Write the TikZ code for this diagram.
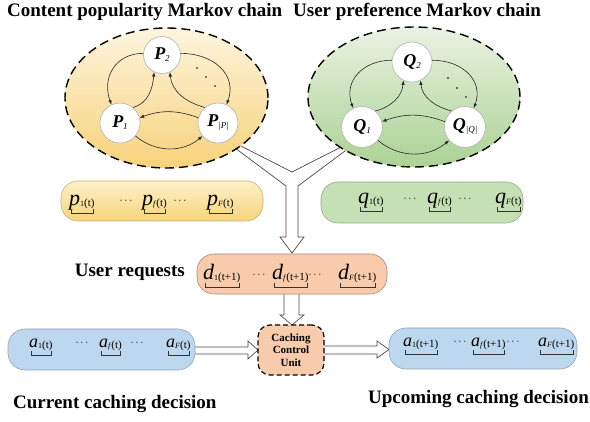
\documentclass[tikz,border=0pt]{standalone}
\usepackage{fontspec}
\setmainfont{Liberation Serif}
\usetikzlibrary{arrows.meta,shapes.geometric}
\definecolor{ylwtop}{HTML}{FEF5DE}
\definecolor{ylwbot}{HTML}{F6D27A}
\definecolor{grntop}{HTML}{E9F2E2}
\definecolor{grnbot}{HTML}{ABD293}
\definecolor{pboxtop}{HTML}{FDF0C8}
\definecolor{pboxbot}{HTML}{F7D47A}
\definecolor{pboxline}{HTML}{C9B07A}
\definecolor{qboxfill}{HTML}{C5E0B4}
\definecolor{qboxline}{HTML}{8FAF80}
\definecolor{dboxfill}{HTML}{F8CBAD}
\definecolor{dboxline}{HTML}{A88A78}
\definecolor{aboxfill}{HTML}{BDD7EE}
\definecolor{aboxline}{HTML}{8FA6BD}
\definecolor{bigline}{HTML}{5B4444}
\newcommand\statelab[2]{{\fontsize{18}{18}\selectfont\bfseries\itshape #1}{\fontsize{9}{9}\selectfont\itshape\raisebox{-2pt}{#2}}}
\newcommand\itmtxt[4]{{\fontsize{#4}{#4}\selectfont\itshape #1}\raisebox{-1pt}{{\fontsize{8}{8}\selectfont #2}{\fontsize{11}{11}\selectfont #3}}}
\newcommand\brkt[1]{\draw[brk] ([shift={(2pt,-3.5pt)}]#1.base west) -- ([shift={(2pt,-7pt)}]#1.base west) -- ([shift={(-1.5pt,-7pt)}]#1.base east) -- ([shift={(-1.5pt,-3.5pt)}]#1.base east);}
\begin{document}
\begin{tikzpicture}[x=1pt,y=-1pt,
  title/.style={font=\fontsize{19}{19}\selectfont\bfseries, inner sep=0},
  state/.style={circle, fill=white, draw=black!30, line width=0.6pt, minimum size=40pt, inner sep=0},
  arr/.style={-{Latex[length=4.5pt,width=3.5pt]}, line width=0.6pt, black!85},
  mc/.style={ellipse, draw=black, line width=1.4pt, dash pattern=on 9pt off 5pt, inner sep=0},
  box/.style={rounded corners=17pt, line width=0.6pt, inner sep=0},
  bigarrow/.style={fill=white, draw=bigline, line width=0.7pt, line join=miter},
  itm/.style={inner sep=0, anchor=base west},
  dts/.style={inner sep=0, anchor=base, font=\fontsize{11}{11}\selectfont\bfseries},
  brk/.style={line width=0.6pt, draw=black!80},
  ccu/.style={rounded corners=12pt, draw=black, line width=1.2pt, dash pattern=on 5pt off 3pt, fill=dboxfill, inner sep=0, align=center, font=\fontsize{11}{12.5}\selectfont\bfseries}
]
\useasboundingbox (0,0) rectangle (590,422);
\fill[white] (0,0) rectangle (590,422);

% titles
\node[title, anchor=base west] (t1) at (7,17) {Content popularity Markov chain};
\node[title, anchor=base west] (t2) at (293,17) {User preference Markov chain};

% Y-shaped big arrow
\draw[bigarrow] (231,141) -- (292,172) -- (353,141) -- (353,145) -- (298,186) -- (298,237) -- (304,237) -- (292,253) -- (280,237) -- (286,237) -- (286,186) -- (231,145) -- cycle;

% ellipses
\node[mc, minimum width=203pt, minimum height=140pt, top color=ylwtop, bottom color=ylwbot] (E1) at (166.5,98) {};
\node[mc, minimum width=212pt, minimum height=140pt, top color=grntop, bottom color=grnbot] (E2) at (414,97) {};

% P chain
\node[state, minimum size=37pt] (p2) at (162,55) {\statelab{P}{2}};
\node[state] (p1) at (120,123) {\statelab{P}{1}};
\node[state] (pP) at (218,123) {\statelab{P}{|P|}};
\draw[arr] (p2.175) to[out=180,in=110,looseness=1.2] (p1.115);
\draw[arr] (p1.50) to[out=15,in=-95] (p2.245);
\draw[arr] (p2.5) to[out=0,in=70,looseness=1.2] (pP.65);
\draw[arr] (pP.130) to[out=165,in=-85] (p2.295);
\draw[arr] (pP.165) to[out=160,in=20] (p1.15);
\draw[arr] (p1.-40) to[out=-40,in=-140] (pP.-140);
\fill (197,68) circle (0.8) (206,77) circle (0.8) (215,86) circle (0.8);

% Q chain
\node[state] (q2) at (412,62) {\statelab{Q}{2}};
\node[state, minimum size=41pt] (q1) at (362,127) {\statelab{Q}{1}};
\node[state, minimum size=41pt] (qQ) at (465,127) {\statelab{Q}{|Q|}};
\draw[arr] (q2.175) to[out=180,in=110,looseness=1.2] (q1.115);
\draw[arr] (q1.50) to[out=15,in=-95] (q2.245);
\draw[arr] (q2.5) to[out=0,in=70,looseness=1.2] (qQ.65);
\draw[arr] (qQ.130) to[out=165,in=-85] (q2.295);
\draw[arr] (qQ.165) to[out=160,in=20] (q1.15);
\draw[arr] (q1.-40) to[out=-40,in=-140] (qQ.-140);
\fill (448,78) circle (0.8) (457,88) circle (0.8) (466,97) circle (0.8);

% p box
\node[box, draw=pboxline, top color=pboxtop, bottom color=pboxbot, minimum width=202pt, minimum height=40pt] (pbox) at (162,201) {};
\node[itm] (pa) at (69,206) {\itmtxt{p}{1}{(t)}{22}};
\node[dts] (pd1) at (126,204) {$\cdots$};
\node[itm] (pb) at (142,206) {\itmtxt{p}{\textit{f}}{(t)}{22}};
\node[dts] (pd2) at (180,204) {$\cdots$};
\node[itm] (pc) at (207,206) {\itmtxt{p}{\textit{F}}{(t)}{22}};
\brkt{pa}\brkt{pb}\brkt{pc}

% q box
\node[box, draw=qboxline, fill=qboxfill, minimum width=202pt, minimum height=41pt] (qbox) at (422,202.5) {};
\node[itm] (qa) at (358,204) {\itmtxt{q}{1}{(t)}{22}};
\node[dts] (qd1) at (410,202) {$\cdots$};
\node[itm] (qb) at (427,204) {\itmtxt{q}{\textit{f}}{(t)}{22}};
\node[dts] (qd2) at (465,202) {$\cdots$};
\node[itm] (qc) at (495,204) {\itmtxt{q}{\textit{F}}{(t)}{22}};
\brkt{qa}\brkt{qb}\brkt{qc}

% d box arrow to CCU
\draw[bigarrow] (284,290) -- (284,315) -- (280,315) -- (292,325) -- (304,315) -- (299,315) -- (299,290);
% a -> CCU and CCU -> a'
\draw[bigarrow] (185,347) -- (248,347) -- (248,341) -- (258,350) -- (248,359) -- (248,354) -- (185,354);
\draw[bigarrow] (315,346) -- (377,346) -- (377,341) -- (389,349.5) -- (377,358) -- (377,354) -- (315,354);

% d box
\node[box, draw=dboxline, fill=dboxfill, minimum width=190pt, minimum height=40pt] (dbox) at (292,274) {};
\node[itm] (da) at (203,280) {\itmtxt{d}{1}{(t+1)}{22}};
\node[dts] (dd1) at (259,278) {$\cdots$};
\node[itm] (db) at (272,280) {\itmtxt{d}{\textit{f}}{(t+1)}{22}};
\node[dts] (dd2) at (315,278) {$\cdots$};
\node[itm] (dc) at (338,280) {\itmtxt{d}{\textit{F}}{(t+1)}{22}};
\brkt{da}\brkt{db}\brkt{dc}
\node[title, anchor=base east] (ur) at (185,277) {User requests};

% CCU
\node[ccu, minimum width=66pt, minimum height=50pt] (ccu) at (291,350) {Caching\\Control\\Unit};

% a boxes
\node[box, draw=aboxline, fill=aboxfill, minimum width=187pt, minimum height=41pt] (abox) at (101.5,349.5) {};
\node[itm] (aa) at (29,348) {\itmtxt{a}{1}{(t)}{18}};
\node[dts] (ad1) at (82,346) {$\cdots$};
\node[itm] (ab) at (99,348) {\itmtxt{a}{\textit{f}}{(t)}{18}};
\node[dts] (ad2) at (137,346) {$\cdots$};
\node[itm] (ac) at (166,348) {\itmtxt{a}{\textit{F}}{(t)}{18}};
\brkt{aa}\brkt{ab}\brkt{ac}

\node[box, draw=aboxline, fill=aboxfill, minimum width=188pt, minimum height=41pt] (abox2) at (483,348.5) {};
\node[itm] (ba) at (403,347) {\itmtxt{a}{1}{(t+1)}{18}};
\node[dts] (bd1) at (460,345) {$\cdots$};
\node[itm] (bb) at (471,347) {\itmtxt{a}{\textit{f}}{(t+1)}{18}};
\node[dts] (bd2) at (513,345) {$\cdots$};
\node[itm] (bc) at (538,347) {\itmtxt{a}{\textit{F}}{(t+1)}{18}};
\brkt{ba}\brkt{bb}\brkt{bc}

% bottom labels
\node[title, anchor=base west] (cur) at (13,409) {Current caching decision};
\node[title, anchor=base west] (up) at (368,404) {Upcoming caching decision};
\end{tikzpicture}
\end{document}
